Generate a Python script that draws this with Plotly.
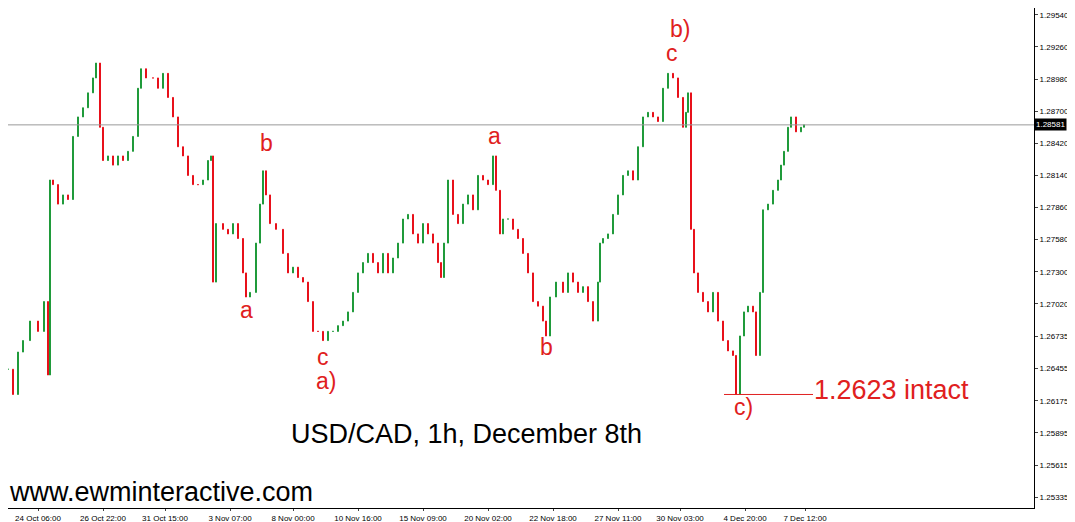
import plotly.graph_objects as go

# hour index (chart position) and close prices
hours = [0, 5, 10, 15, 22, 30, 36, 40, 42, 45, 50, 55, 60, 65, 70, 75, 80, 85, 88, 92, 95, 100, 105,
         110, 115, 120, 125, 130, 133, 138, 145, 150, 155, 160, 165, 170, 175, 180, 185, 190, 195,
         200, 203, 205, 208, 215, 220, 225, 230, 235, 238, 242, 248, 252, 255, 258, 262, 268, 275,
         280, 285, 290, 295, 300, 305, 310, 315, 320, 325, 330, 335, 340, 345, 350, 355, 360, 365,
         370, 375, 380, 385, 390, 395, 400, 405, 410, 415, 420, 425, 430, 433, 436, 440, 445, 450,
         455, 460, 465, 470, 475, 480, 485, 488, 492, 495, 500, 505, 510, 515, 520, 525, 530, 535,
         538, 542, 548, 555, 560, 565, 570, 575, 580, 585, 590, 592, 595, 600, 605, 610, 615, 620,
         625, 630, 635, 640, 645, 650, 655, 660, 665, 670, 675, 678, 680, 683, 686, 690, 695, 700,
         705, 710, 715, 720, 725, 728, 732, 736, 740, 745, 748, 752, 755, 760, 765, 770, 773, 776,
         780, 783, 788, 793, 796]
close = [1.2645, 1.2623, 1.2660, 1.2670, 1.2687, 1.2678, 1.2704, 1.2640, 1.2810, 1.2806, 1.2789,
         1.2797, 1.2793, 1.2848, 1.2865, 1.2873, 1.2886, 1.2899, 1.2912, 1.2856, 1.2827, 1.2831,
         1.2823, 1.2831, 1.2827, 1.2835, 1.2848, 1.2890, 1.2907, 1.2899, 1.2899, 1.2890, 1.2903,
         1.2882, 1.2865, 1.2839, 1.2831, 1.2814, 1.2806, 1.2806, 1.2810, 1.2827, 1.2831, 1.2721,
         1.2772, 1.2767, 1.2763, 1.2772, 1.2759, 1.2729, 1.2708, 1.2712, 1.2755, 1.2789, 1.2818,
         1.2797, 1.2772, 1.2767, 1.2746, 1.2729, 1.2734, 1.2725, 1.2721, 1.2704, 1.2678, 1.2678,
         1.2670, 1.2678, 1.2678, 1.2683, 1.2687, 1.2695, 1.2712, 1.2729, 1.2738, 1.2746, 1.2738,
         1.2729, 1.2746, 1.2729, 1.2742, 1.2755, 1.2776, 1.2780, 1.2763, 1.2755, 1.2772, 1.2763,
         1.2755, 1.2738, 1.2725, 1.2755, 1.2810, 1.2780, 1.2772, 1.2789, 1.2797, 1.2784, 1.2814,
         1.2810, 1.2806, 1.2831, 1.2801, 1.2763, 1.2776, 1.2776, 1.2767, 1.2759, 1.2746, 1.2729,
         1.2704, 1.2700, 1.2687, 1.2674, 1.2708, 1.2721, 1.2712, 1.2729, 1.2721, 1.2712, 1.2717,
         1.2704, 1.2687, 1.2721, 1.2755, 1.2759, 1.2763, 1.2780, 1.2797, 1.2814, 1.2818, 1.2810,
         1.2839, 1.2865, 1.2869, 1.2865, 1.2861, 1.2890, 1.2903, 1.2899, 1.2882, 1.2856, 1.2869,
         1.2886, 1.2767, 1.2729, 1.2712, 1.2704, 1.2695, 1.2712, 1.2687, 1.2670, 1.2661, 1.2657,
         1.2623, 1.2674, 1.2695, 1.2700, 1.2695, 1.2657, 1.2712, 1.2784, 1.2789, 1.2801, 1.2810,
         1.2823, 1.2835, 1.2856, 1.2865, 1.2852, 1.2856, 1.28581]

y_ticks = [1.29540, 1.29260, 1.28980, 1.28700, 1.28420, 1.28140, 1.27860, 1.27580, 1.27300,
           1.27020, 1.26735, 1.26455, 1.26175, 1.25895, 1.25615, 1.25335]
x_tick_pos = [30, 95, 157, 222, 285, 350, 415, 480, 545, 610, 672, 737, 797]
x_tick_text = ["24 Oct 06:00", "26 Oct 22:00", "31 Oct 15:00", "3 Nov 07:00", "8 Nov 00:00",
               "10 Nov 16:00", "15 Nov 09:00", "20 Nov 02:00", "22 Nov 18:00", "27 Nov 11:00",
               "30 Nov 03:00", "4 Dec 20:00", "7 Dec 12:00"]
last_price = 1.28581

# wave labels: (hour, price, text)
wave_labels = [(672, 1.2942, "b)"), (664, 1.2921, "c"), (258, 1.2842, "b"), (238, 1.2697, "a"),
               (315, 1.2656, "c"), (318, 1.2635, "a)"), (486, 1.2848, "a"), (538, 1.2664, "b"),
               (735, 1.2612, "c)")]

opens = [close[0]] + close[:-1]
highs = [max(o, c) for o, c in zip(opens, close)]
lows = [min(o, c) for o, c in zip(opens, close)]

fig = go.Figure()
fig.add_trace(go.Candlestick(
    x=hours, open=opens, high=highs, low=lows, close=close,
    increasing_line_color="#1f9a3a", increasing_fillcolor="#1f9a3a",
    decreasing_line_color="#e8101a", decreasing_fillcolor="#e8101a",
    increasing_line_width=1, decreasing_line_width=1,
    whiskerwidth=0, showlegend=False, hoverinfo="skip"))

fig.add_hline(y=last_price, line_color="#999999", line_width=1)
fig.add_annotation(x=1, xref="paper", y=last_price, text="1.28581", showarrow=False,
                   xanchor="left", bgcolor="black", borderpad=1,
                   font=dict(color="white", size=8, family="Arial"))

for hx, py, txt in wave_labels:
    fig.add_annotation(x=hx, y=py, text=txt, showarrow=False,
                       font=dict(color="#e02020", size=23, family="Liberation Sans"))

fig.add_shape(type="line", x0=716, x1=805, y0=1.2623, y1=1.2623, line=dict(color="#e02020", width=1))
fig.add_annotation(x=804, y=1.2627, text="1.2623 intact", showarrow=False, xanchor="left",
                   font=dict(color="#e02020", size=27, family="Liberation Sans"))
fig.add_annotation(x=458, y=1.25885, text="USD/CAD, 1h, December 8th",
                   showarrow=False, font=dict(color="black", size=27, family="Liberation Sans"))
fig.add_annotation(x=0, xref="paper", y=0.0, yref="paper", text="www.ewminteractive.com",
                   showarrow=False, xanchor="left", yanchor="bottom", borderpad=0,
                   font=dict(color="black", size=27, family="Liberation Sans"))

fig.update_layout(
    width=1075, height=522, margin=dict(l=0, r=49, t=0, b=22),
    plot_bgcolor="white", paper_bgcolor="white",
    xaxis=dict(range=[0, 1026], tickvals=x_tick_pos, ticktext=x_tick_text, showgrid=False,
               rangeslider_visible=False, tickfont=dict(size=8, family="Arial", color="black"),
               ticks="outside", ticklen=2, showline=True, linecolor="black", mirror=False),
    yaxis=dict(range=[1.2524, 1.2960], side="right", tickvals=y_ticks,
               ticktext=[f"{v:.5f}" for v in y_ticks], showgrid=False,
               tickfont=dict(size=8, family="Arial", color="black"),
               ticks="outside", ticklen=3, showline=True, linecolor="black"),
)

fig.write_html("out.html")
